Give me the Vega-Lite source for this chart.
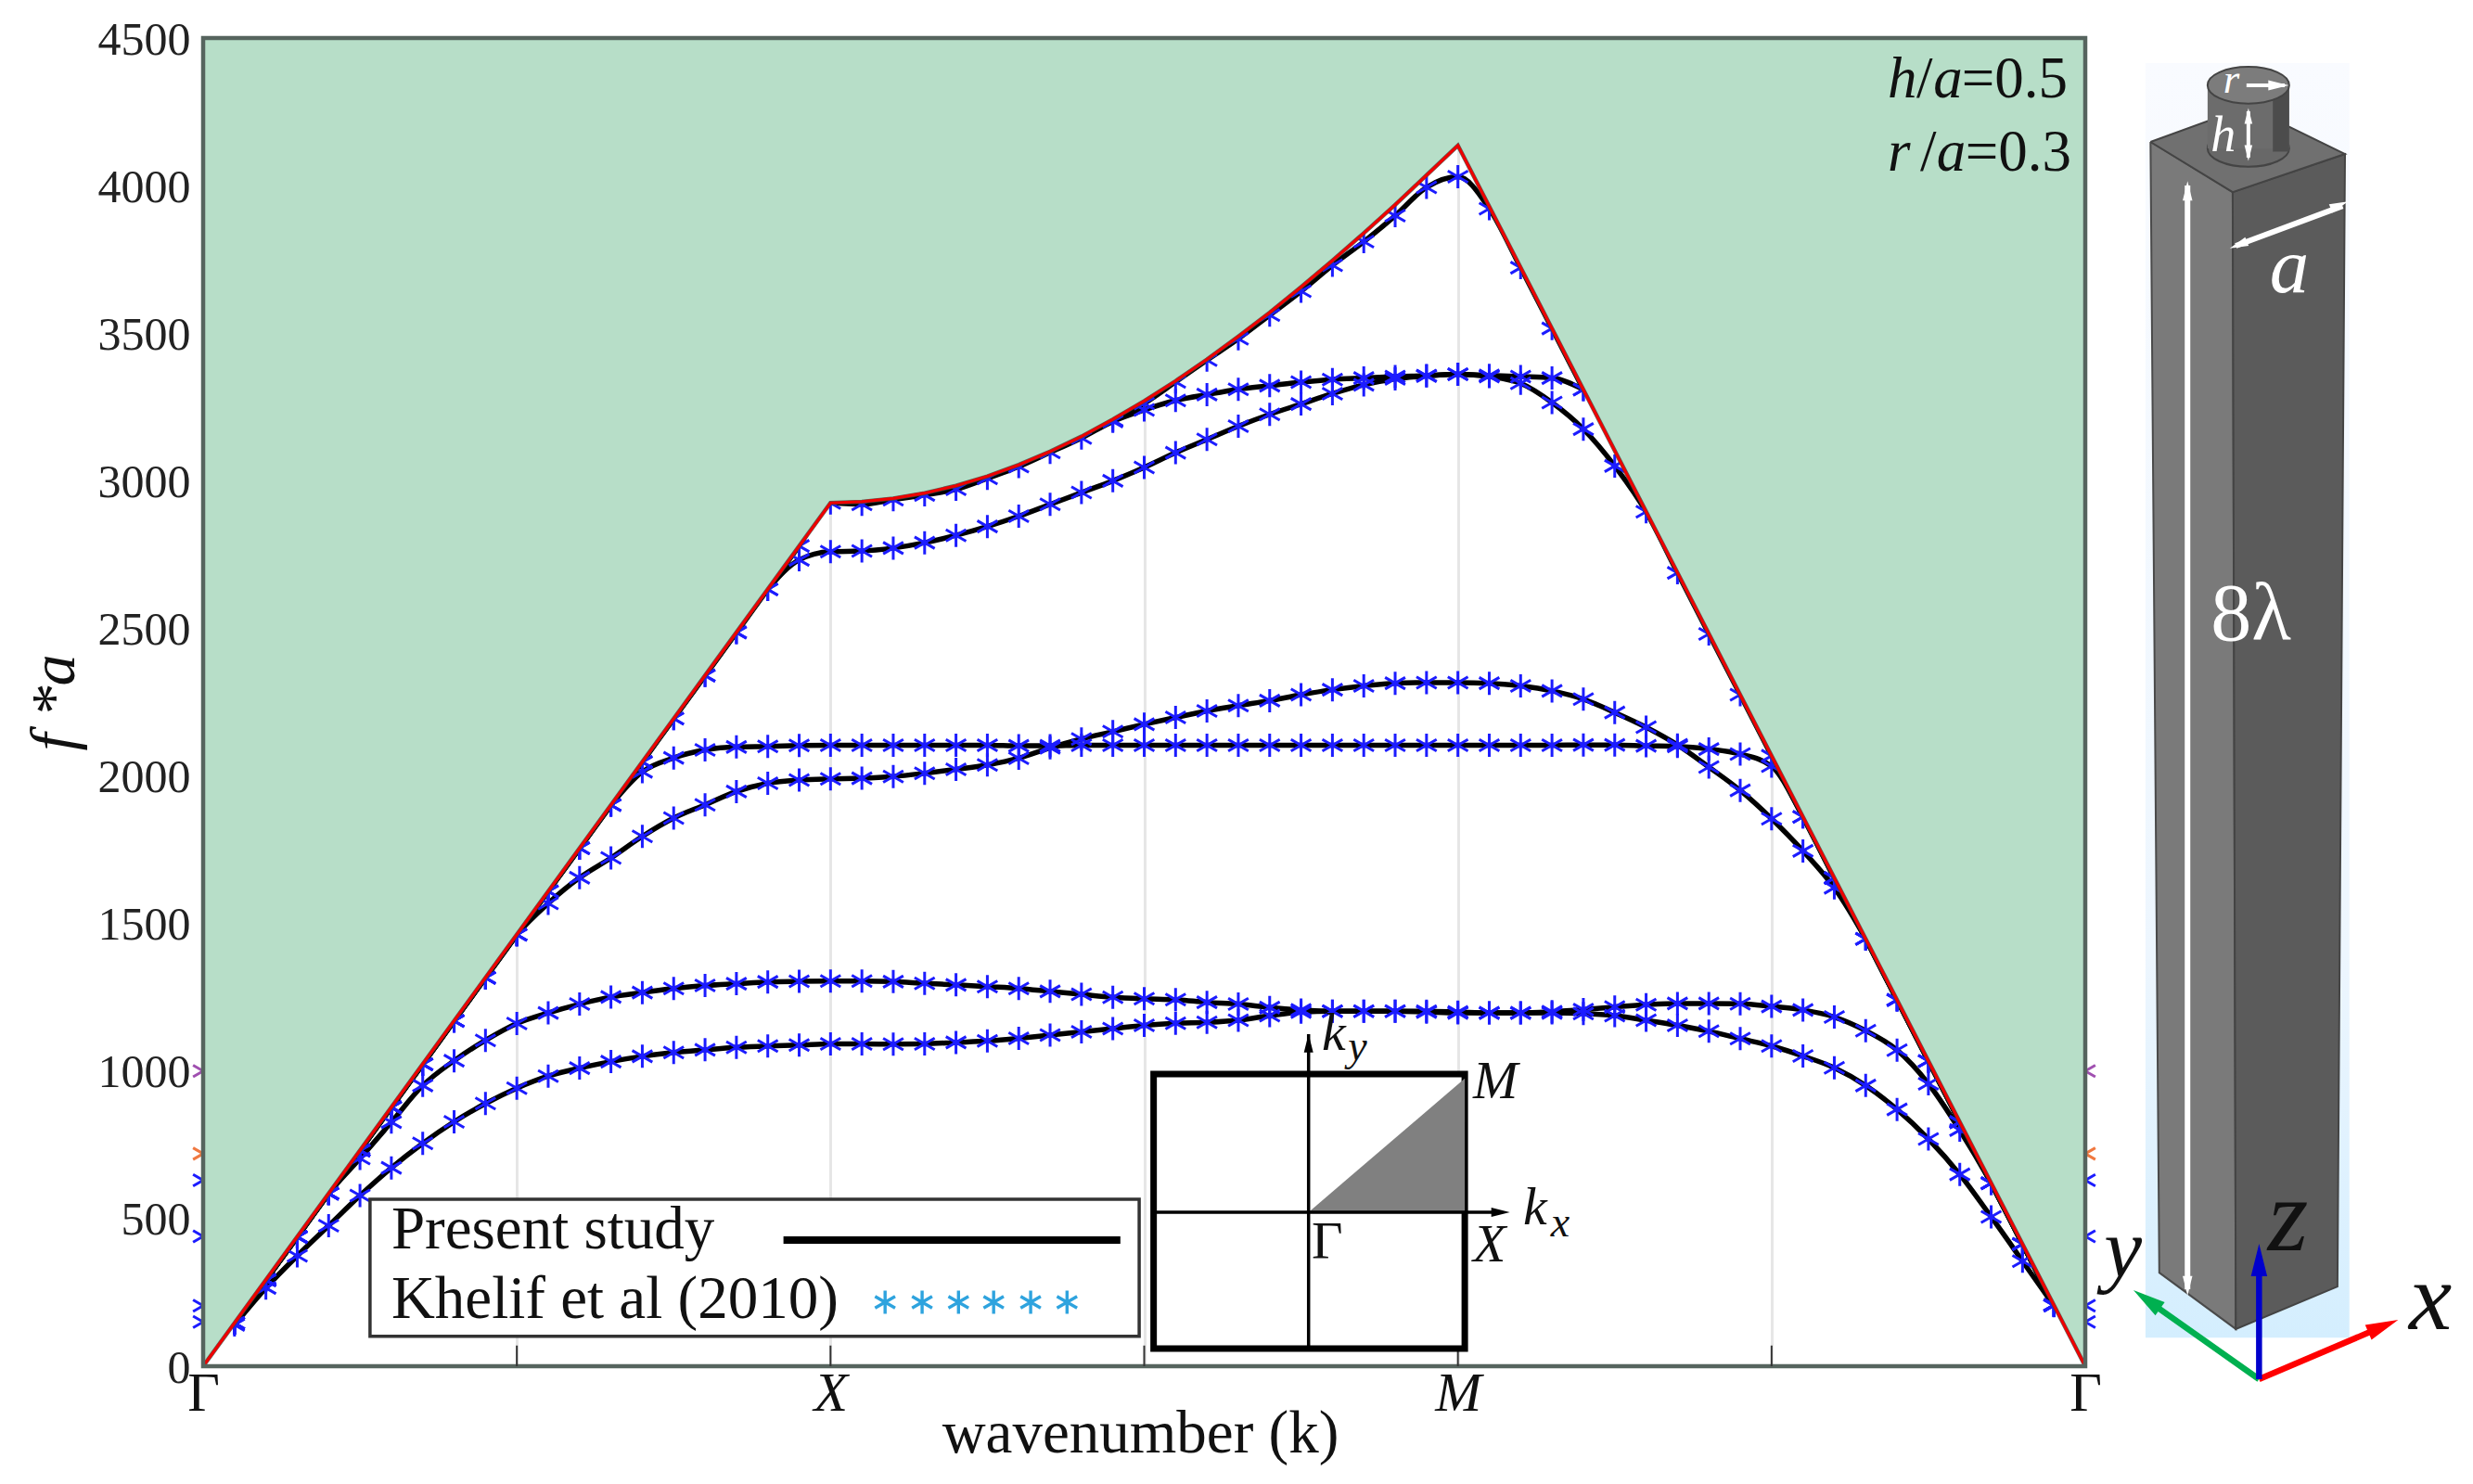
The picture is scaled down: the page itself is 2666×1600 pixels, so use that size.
{"$schema":"https://vega.github.io/schema/vega-lite/v6.json","autosize":{"type":"none"},"padding":{"left":219,"top":41,"right":418,"bottom":127},"width":2029,"height":1432,"background":"white","config":{"view":{"stroke":null}},
"datasets":{
"band1":[{"k":0.05,"f":140},{"k":0.1,"f":265},{"k":0.15,"f":374},{"k":0.2,"f":476},{"k":0.25,"f":578},{"k":0.3,"f":672},{"k":0.35,"f":755},{"k":0.4,"f":828},{"k":0.45,"f":890},{"k":0.5,"f":942},{"k":0.55,"f":983},{"k":0.6,"f":1010},{"k":0.65,"f":1032},{"k":0.7,"f":1050},{"k":0.75,"f":1063},{"k":0.8,"f":1072},{"k":0.85,"f":1080},{"k":0.9,"f":1085},{"k":0.95,"f":1088},{"k":1,"f":1092},{"k":1.05,"f":1092},{"k":1.1,"f":1091},{"k":1.15,"f":1092},{"k":1.2,"f":1097},{"k":1.25,"f":1102},{"k":1.3,"f":1111},{"k":1.35,"f":1122},{"k":1.4,"f":1133},{"k":1.45,"f":1144},{"k":1.5,"f":1155},{"k":1.55,"f":1162},{"k":1.6,"f":1165},{"k":1.65,"f":1172},{"k":1.7,"f":1188},{"k":1.75,"f":1200},{"k":1.8,"f":1203},{"k":1.85,"f":1203},{"k":1.9,"f":1203},{"k":1.95,"f":1203},{"k":2,"f":1200},{"k":2.05,"f":1197},{"k":2.1,"f":1197},{"k":2.15,"f":1197},{"k":2.2,"f":1195},{"k":2.25,"f":1188},{"k":2.3,"f":1172},{"k":2.35,"f":1155},{"k":2.4,"f":1135},{"k":2.45,"f":1110},{"k":2.5,"f":1085},{"k":2.55,"f":1051},{"k":2.6,"f":1011},{"k":2.65,"f":951},{"k":2.7,"f":870},{"k":2.75,"f":770},{"k":2.8,"f":650},{"k":2.85,"f":506},{"k":2.9,"f":356},{"k":2.95,"f":205}],
"band2":[{"k":0.05,"f":146},{"k":0.1,"f":292},{"k":0.15,"f":438},{"k":0.2,"f":585},{"k":0.25,"f":704},{"k":0.3,"f":827},{"k":0.35,"f":951},{"k":0.4,"f":1035},{"k":0.45,"f":1104},{"k":0.5,"f":1161},{"k":0.55,"f":1197},{"k":0.6,"f":1227},{"k":0.65,"f":1251},{"k":0.7,"f":1266},{"k":0.75,"f":1280},{"k":0.8,"f":1290},{"k":0.85,"f":1296},{"k":0.9,"f":1302},{"k":0.95,"f":1304},{"k":1,"f":1305},{"k":1.05,"f":1305},{"k":1.1,"f":1303},{"k":1.15,"f":1297},{"k":1.2,"f":1292},{"k":1.25,"f":1286},{"k":1.3,"f":1280},{"k":1.35,"f":1270},{"k":1.4,"f":1260},{"k":1.45,"f":1250},{"k":1.5,"f":1245},{"k":1.55,"f":1242},{"k":1.6,"f":1233},{"k":1.65,"f":1227},{"k":1.7,"f":1215},{"k":1.75,"f":1207},{"k":1.8,"f":1203},{"k":1.85,"f":1203},{"k":1.9,"f":1203},{"k":1.95,"f":1200},{"k":2,"f":1197},{"k":2.05,"f":1197},{"k":2.1,"f":1197},{"k":2.15,"f":1201},{"k":2.2,"f":1208},{"k":2.25,"f":1217},{"k":2.3,"f":1225},{"k":2.35,"f":1229},{"k":2.4,"f":1229},{"k":2.45,"f":1228},{"k":2.5,"f":1219},{"k":2.55,"f":1207},{"k":2.6,"f":1183},{"k":2.65,"f":1137},{"k":2.7,"f":1071},{"k":2.75,"f":957},{"k":2.8,"f":800},{"k":2.85,"f":620},{"k":2.9,"f":414},{"k":2.95,"f":207}],
"band3":[{"k":0.05,"f":146},{"k":0.1,"f":292},{"k":0.15,"f":438},{"k":0.2,"f":585},{"k":0.25,"f":731},{"k":0.3,"f":877},{"k":0.35,"f":1023},{"k":0.4,"f":1170},{"k":0.45,"f":1316},{"k":0.5,"f":1462},{"k":0.55,"f":1568},{"k":0.6,"f":1655},{"k":0.65,"f":1722},{"k":0.7,"f":1795},{"k":0.75,"f":1857},{"k":0.8,"f":1902},{"k":0.85,"f":1947},{"k":0.9,"f":1975},{"k":0.95,"f":1986},{"k":1,"f":1990},{"k":1.05,"f":1992},{"k":1.1,"f":1998},{"k":1.15,"f":2009},{"k":1.2,"f":2022},{"k":1.25,"f":2037},{"k":1.3,"f":2060},{"k":1.35,"f":2095},{"k":1.4,"f":2125},{"k":1.45,"f":2150},{"k":1.5,"f":2175},{"k":1.55,"f":2198},{"k":1.6,"f":2220},{"k":1.65,"f":2238},{"k":1.7,"f":2255},{"k":1.75,"f":2275},{"k":1.8,"f":2292},{"k":1.85,"f":2305},{"k":1.9,"f":2314},{"k":1.95,"f":2316},{"k":2,"f":2316},{"k":2.05,"f":2314},{"k":2.1,"f":2305},{"k":2.15,"f":2288},{"k":2.2,"f":2260},{"k":2.25,"f":2215},{"k":2.3,"f":2165},{"k":2.35,"f":2105},{"k":2.4,"f":2030},{"k":2.45,"f":1951},{"k":2.5,"f":1855},{"k":2.55,"f":1746},{"k":2.6,"f":1621},{"k":2.65,"f":1448},{"k":2.7,"f":1241},{"k":2.75,"f":1034},{"k":2.8,"f":827},{"k":2.85,"f":620},{"k":2.9,"f":414},{"k":2.95,"f":207}],
"band4":[{"k":0.05,"f":146},{"k":0.1,"f":292},{"k":0.15,"f":438},{"k":0.2,"f":585},{"k":0.25,"f":731},{"k":0.3,"f":877},{"k":0.35,"f":1023},{"k":0.4,"f":1170},{"k":0.45,"f":1316},{"k":0.5,"f":1462},{"k":0.55,"f":1609},{"k":0.6,"f":1755},{"k":0.65,"f":1901},{"k":0.7,"f":2014},{"k":0.75,"f":2061},{"k":0.8,"f":2088},{"k":0.85,"f":2098},{"k":0.9,"f":2100},{"k":0.95,"f":2103},{"k":1,"f":2104},{"k":1.05,"f":2104},{"k":1.1,"f":2104},{"k":1.15,"f":2104},{"k":1.2,"f":2104},{"k":1.25,"f":2104},{"k":1.3,"f":2102},{"k":1.35,"f":2102},{"k":1.4,"f":2104},{"k":1.45,"f":2104},{"k":1.5,"f":2104},{"k":1.55,"f":2104},{"k":1.6,"f":2104},{"k":1.65,"f":2104},{"k":1.7,"f":2104},{"k":1.75,"f":2104},{"k":1.8,"f":2104},{"k":1.85,"f":2104},{"k":1.9,"f":2104},{"k":1.95,"f":2104},{"k":2,"f":2104},{"k":2.05,"f":2104},{"k":2.1,"f":2104},{"k":2.15,"f":2104},{"k":2.2,"f":2105},{"k":2.25,"f":2105},{"k":2.3,"f":2102},{"k":2.35,"f":2100},{"k":2.4,"f":2091},{"k":2.45,"f":2074},{"k":2.5,"f":2033},{"k":2.55,"f":1861},{"k":2.6,"f":1654},{"k":2.65,"f":1448},{"k":2.7,"f":1241},{"k":2.75,"f":1034},{"k":2.8,"f":827},{"k":2.85,"f":620},{"k":2.9,"f":414},{"k":2.95,"f":207}],
"band5":[{"k":0.05,"f":146},{"k":0.1,"f":292},{"k":0.15,"f":438},{"k":0.2,"f":585},{"k":0.25,"f":731},{"k":0.3,"f":877},{"k":0.35,"f":1023},{"k":0.4,"f":1170},{"k":0.45,"f":1316},{"k":0.5,"f":1462},{"k":0.55,"f":1609},{"k":0.6,"f":1755},{"k":0.65,"f":1901},{"k":0.7,"f":2047},{"k":0.75,"f":2194},{"k":0.8,"f":2340},{"k":0.85,"f":2486},{"k":0.9,"f":2632},{"k":0.95,"f":2732},{"k":1,"f":2760},{"k":1.05,"f":2762},{"k":1.1,"f":2772},{"k":1.15,"f":2790},{"k":1.2,"f":2815},{"k":1.25,"f":2845},{"k":1.3,"f":2880},{"k":1.35,"f":2920},{"k":1.4,"f":2960},{"k":1.45,"f":3000},{"k":1.5,"f":3045},{"k":1.55,"f":3095},{"k":1.6,"f":3140},{"k":1.65,"f":3185},{"k":1.7,"f":3225},{"k":1.75,"f":3260},{"k":1.8,"f":3295},{"k":1.85,"f":3325},{"k":1.9,"f":3345},{"k":1.95,"f":3355},{"k":2,"f":3361},{"k":2.05,"f":3353},{"k":2.1,"f":3330},{"k":2.15,"f":3265},{"k":2.2,"f":3175},{"k":2.25,"f":3050},{"k":2.3,"f":2895},{"k":2.35,"f":2688},{"k":2.4,"f":2481},{"k":2.45,"f":2275},{"k":2.5,"f":2068},{"k":2.55,"f":1861},{"k":2.6,"f":1654},{"k":2.65,"f":1448},{"k":2.7,"f":1241},{"k":2.75,"f":1034},{"k":2.8,"f":827},{"k":2.85,"f":620},{"k":2.9,"f":414},{"k":2.95,"f":207}],
"band6":[{"k":0.05,"f":146},{"k":0.1,"f":292},{"k":0.15,"f":438},{"k":0.2,"f":585},{"k":0.25,"f":731},{"k":0.3,"f":877},{"k":0.35,"f":1023},{"k":0.4,"f":1170},{"k":0.45,"f":1316},{"k":0.5,"f":1462},{"k":0.55,"f":1609},{"k":0.6,"f":1755},{"k":0.65,"f":1901},{"k":0.7,"f":2047},{"k":0.75,"f":2194},{"k":0.8,"f":2340},{"k":0.85,"f":2486},{"k":0.9,"f":2632},{"k":0.95,"f":2779},{"k":1,"f":2925},{"k":1.05,"f":2920},{"k":1.1,"f":2936},{"k":1.15,"f":2952},{"k":1.2,"f":2971},{"k":1.25,"f":3008},{"k":1.3,"f":3048},{"k":1.35,"f":3096},{"k":1.4,"f":3145},{"k":1.45,"f":3201},{"k":1.5,"f":3240},{"k":1.55,"f":3272},{"k":1.6,"f":3292},{"k":1.65,"f":3310},{"k":1.7,"f":3322},{"k":1.75,"f":3334},{"k":1.8,"f":3343},{"k":1.85,"f":3348},{"k":1.9,"f":3353},{"k":1.95,"f":3356},{"k":2,"f":3361},{"k":2.05,"f":3357},{"k":2.1,"f":3353},{"k":2.15,"f":3348},{"k":2.2,"f":3309}],
"band7":[{"k":1.45,"f":3205},{"k":1.5,"f":3262},{"k":1.55,"f":3335},{"k":1.6,"f":3409},{"k":1.65,"f":3481},{"k":1.7,"f":3561},{"k":1.75,"f":3642},{"k":1.8,"f":3730},{"k":1.85,"f":3810},{"k":1.9,"f":3898},{"k":1.95,"f":3994},{"k":2,"f":4030},{"k":2.05,"f":3922},{"k":2.1,"f":3722},{"k":2.15,"f":3516},{"k":2.2,"f":3309}],
"gammaBlue":[{"k":0,"f":630},{"k":0,"f":440},{"k":0,"f":205},{"k":0,"f":150},{"k":3,"f":630},{"k":3,"f":440},{"k":3,"f":205},{"k":3,"f":150}],
"gammaPurple":[{"k":0,"f":1000},{"k":3,"f":1000}],
"gammaOrange":[{"k":0,"f":720},{"k":3,"f":720}],
"envelope":[{"k":0,"f":0},{"k":1,"f":2925},{"k":1.05,"f":2929},{"k":1.1,"f":2940},{"k":1.15,"f":2958},{"k":1.2,"f":2983},{"k":1.25,"f":3015},{"k":1.3,"f":3054},{"k":1.35,"f":3099},{"k":1.4,"f":3150},{"k":1.45,"f":3208},{"k":1.5,"f":3270},{"k":1.55,"f":3338},{"k":1.6,"f":3411},{"k":1.65,"f":3489},{"k":1.7,"f":3570},{"k":1.75,"f":3656},{"k":1.8,"f":3746},{"k":1.85,"f":3839},{"k":1.9,"f":3935},{"k":1.95,"f":4035},{"k":2,"f":4136},{"k":3,"f":0}],
"frame":[{"k":0,"k2":3,"f":0,"f2":4500}],
"ticks":[{"k":0.5,"f":0,"f2":70},{"k":1,"f":0,"f2":70},{"k":1.5,"f":0,"f2":70},{"k":2,"f":0,"f2":70},{"k":2.5,"f":0,"f2":70}],
"legendBox":[{"k":0.266,"k2":1.492,"f":101,"f2":566}],
"legendLine":[{"k":0.925,"k2":1.462,"f":427,"f2":427}],
"legendStars":[{"k":1.087,"f":217},{"k":1.146,"f":217},{"k":1.204,"f":217},{"k":1.26,"f":217},{"k":1.319,"f":217},{"k":1.377,"f":217}],
"legendText":[{"txt":"Present study","k":0.3,"f":399},{"txt":"Khelif et al (2010)","k":0.3,"f":163}],
"insetBox":[{"k":1.515,"k2":2.011,"f":60,"f2":990}],
"insetWedge":[{"k":1.762,"f":522,"f2":522},{"k":2.011,"f":975,"f2":522}],
"insetAxes":[{"k":1.762,"k2":1.762,"f":60,"f2":1125},{"k":1.515,"k2":2.068,"f":522,"f2":522}],
"insetUp":[{"k":1.762,"f":1094}],
"insetRight":[{"k":2.068,"f":522}],
"insetItalic":[{"txt":"M","k":2.024,"f":908},{"txt":"X","k":2.024,"f":355},{"txt":"k","k":2.104,"f":481},{"txt":"k","k":1.783,"f":1072}],
"insetRoman":[{"txt":"Γ","k":1.767,"f":365}],
"insetSub":[{"txt":"x","k":2.148,"f":440},{"txt":"y","k":1.825,"f":1037}],
"noteRoman":[{"txt":"/","k":2.731,"f":4299},{"txt":"=0.5","k":2.803,"f":4299},{"txt":"/","k":2.737,"f":4051},{"txt":"=0.3","k":2.809,"f":4051}],
"noteItalic":[{"txt":"h","k":2.685,"f":4299},{"txt":"a","k":2.758,"f":4299},{"txt":"r","k":2.685,"f":4051},{"txt":"a","k":2.763,"f":4051}],
"glow":[{"k":3.096,"k2":3.421,"f":97,"f2":4415}],
"faceLeft":[{"i":0,"k":3.104,"f":4148},{"i":1,"k":3.235,"f":3978},{"i":2,"k":3.24,"f":126},{"i":3,"k":3.118,"f":317},{"i":4,"k":3.104,"f":4148}],
"faceRight":[{"i":0,"k":3.235,"f":3978},{"i":1,"k":3.414,"f":4107},{"i":2,"k":3.402,"f":270},{"i":3,"k":3.24,"f":126},{"i":4,"k":3.235,"f":3978}],
"faceTop":[{"i":0,"k":3.104,"f":4148},{"i":1,"k":3.259,"f":4268},{"i":2,"k":3.414,"f":4107},{"i":3,"k":3.235,"f":3978},{"i":4,"k":3.104,"f":4148}],
"cylBase":[{"k":3.26,"f":4126}],
"cylTop":[{"k":3.26,"f":4340}],
"cylBody":[{"k":3.195,"k2":3.325,"f":4126,"f2":4340}],
"cylShade":[{"k":3.299,"k2":3.325,"f":4115,"f2":4340}],
"whiteRules3":[{"k":3.257,"k2":3.318,"f":4340,"f2":4340},{"k":3.26,"k2":3.26,"f":4252,"f2":4095}],
"whiteRules5":[{"k":3.24,"k2":3.41,"f":3796,"f2":3931},{"k":3.163,"k2":3.163,"f":4000,"f2":261}],
"headR":[{"k":3.308,"f":4340}],
"headHUp":[{"k":3.26,"f":4236}],
"headHDown":[{"k":3.26,"f":4110}],
"headAR":[{"k":3.405,"f":3934}],
"headAL":[{"k":3.244,"f":3799}],
"head8Up":[{"k":3.163,"f":3982}],
"head8Down":[{"k":3.163,"f":273}],
"whiteR":[{"txt":"r","k":3.22,"f":4315}],
"whiteH":[{"txt":"h","k":3.2,"f":4117}],
"whiteA":[{"txt":"a","k":3.294,"f":3639}],
"white8":[{"txt":"8λ","k":3.2,"f":2460}],
"axisBlue":[{"k":3.277,"k2":3.277,"f":-44,"f2":308}],
"axisGreen":[{"k":3.277,"k2":3.114,"f":-44,"f2":201}],
"axisRed":[{"k":3.277,"k2":3.454,"f":-44,"f2":116}],
"tipBlue":[{"k":3.277,"f":360}],
"tipGreen":[{"k":3.098,"f":226}],
"tipRed":[{"k":3.475,"f":136}],
"nameZ":[{"txt":"z","k":3.291,"f":393}],
"nameX":[{"txt":"x","k":3.516,"f":126}],
"nameY":[{"txt":"y","k":3.03,"f":302}]
},
"encoding":{
"x":{"field":"k","type":"quantitative","scale":{"domain":[0,3],"nice":false,"zero":false},"axis":{"title":"wavenumber (k)","titleFont":"Liberation Serif","titleFontSize":65,"titleFontWeight":"normal","titleColor":"#111","titlePadding":-18,"titleX":1010,"values":[0,0.5,1,1.5,2,2.5,3],"labelExpr":"datum.value==0||datum.value==3?'Γ':datum.value==1?'X':datum.value==2?'M':''","labelFont":"Liberation Serif","labelFontSize":60,"labelColor":"#111","labelPadding":0,"labelOverlap":false,"labelFlush":false,"labelFontStyle":{"condition":{"test":"datum.value==1||datum.value==2","value":"italic"},"value":"normal"},"tickSize":0,"domain":false,"grid":true,"gridColor":"#e6e6e6","gridWidth":3}},
"y":{"field":"f","type":"quantitative","scale":{"domain":[0,4500],"nice":false,"zero":false},"axis":{"title":"f *a","titleFont":"Liberation Serif","titleFontSize":68,"titleFontStyle":"italic","titleFontWeight":"normal","titleColor":"#111","titlePadding":12,"values":[0,500,1000,1500,2000,2500,3000,3500,4000,4500],"labelFont":"Liberation Serif","labelFontSize":50,"labelColor":"#222","labelPadding":14,"labelOffset":2,"labelOverlap":false,"labelFlush":false,"format":"d","tickSize":0,"domain":false,"grid":false}}
},
"layer":[
{"data":{"name":"band1"},"mark":{"type":"line","color":"#000","strokeWidth":5.5,"interpolate":"monotone"}},
{"data":{"name":"band2"},"mark":{"type":"line","color":"#000","strokeWidth":5.5,"interpolate":"monotone"}},
{"data":{"name":"band3"},"mark":{"type":"line","color":"#000","strokeWidth":5.5,"interpolate":"monotone"}},
{"data":{"name":"band4"},"mark":{"type":"line","color":"#000","strokeWidth":5.5,"interpolate":"monotone"}},
{"data":{"name":"band5"},"mark":{"type":"line","color":"#000","strokeWidth":5.5,"interpolate":"monotone"}},
{"data":{"name":"band6"},"mark":{"type":"line","color":"#000","strokeWidth":5.5,"interpolate":"monotone"}},
{"data":{"name":"band7"},"mark":{"type":"line","color":"#000","strokeWidth":5.5,"interpolate":"monotone"}},
{"data":{"name":"band1"},"mark":{"type":"point","shape":"M0,-1L0,1M-0.87,-0.5L0.87,0.5M-0.87,0.5L0.87,-0.5","size":625,"filled":false,"stroke":"#1c1cff","strokeWidth":3,"opacity":1}},
{"data":{"name":"band2"},"mark":{"type":"point","shape":"M0,-1L0,1M-0.87,-0.5L0.87,0.5M-0.87,0.5L0.87,-0.5","size":625,"filled":false,"stroke":"#1c1cff","strokeWidth":3,"opacity":1}},
{"data":{"name":"band3"},"mark":{"type":"point","shape":"M0,-1L0,1M-0.87,-0.5L0.87,0.5M-0.87,0.5L0.87,-0.5","size":625,"filled":false,"stroke":"#1c1cff","strokeWidth":3,"opacity":1}},
{"data":{"name":"band4"},"mark":{"type":"point","shape":"M0,-1L0,1M-0.87,-0.5L0.87,0.5M-0.87,0.5L0.87,-0.5","size":625,"filled":false,"stroke":"#1c1cff","strokeWidth":3,"opacity":1}},
{"data":{"name":"band5"},"mark":{"type":"point","shape":"M0,-1L0,1M-0.87,-0.5L0.87,0.5M-0.87,0.5L0.87,-0.5","size":625,"filled":false,"stroke":"#1c1cff","strokeWidth":3,"opacity":1}},
{"data":{"name":"band6"},"mark":{"type":"point","shape":"M0,-1L0,1M-0.87,-0.5L0.87,0.5M-0.87,0.5L0.87,-0.5","size":625,"filled":false,"stroke":"#1c1cff","strokeWidth":3,"opacity":1}},
{"data":{"name":"band7"},"mark":{"type":"point","shape":"M0,-1L0,1M-0.87,-0.5L0.87,0.5M-0.87,0.5L0.87,-0.5","size":625,"filled":false,"stroke":"#1c1cff","strokeWidth":3,"opacity":1}},
{"data":{"name":"gammaBlue"},"mark":{"type":"point","shape":"M0,-1L0,1M-0.87,-0.5L0.87,0.5M-0.87,0.5L0.87,-0.5","size":625,"filled":false,"stroke":"#1c1cff","strokeWidth":3,"opacity":1}},
{"data":{"name":"gammaPurple"},"mark":{"type":"point","shape":"M0,-1L0,1M-0.87,-0.5L0.87,0.5M-0.87,0.5L0.87,-0.5","size":625,"filled":false,"stroke":"#a050b0","strokeWidth":3,"opacity":1}},
{"data":{"name":"gammaOrange"},"mark":{"type":"point","shape":"M0,-1L0,1M-0.87,-0.5L0.87,0.5M-0.87,0.5L0.87,-0.5","size":625,"filled":false,"stroke":"#f07840","strokeWidth":3,"opacity":1}},
{"data":{"name":"envelope"},"mark":{"type":"area","color":"#b7dec8"},"encoding":{"y2":{"datum":4500}}},
{"data":{"name":"envelope"},"mark":{"type":"line","color":"#3a4a42","strokeWidth":4.5,"opacity":0.8}},
{"data":{"name":"envelope"},"mark":{"type":"line","color":"#ee0000","strokeWidth":3.2}},
{"data":{"name":"frame"},"mark":{"type":"rect","fill":null,"fillOpacity":0,"stroke":"#56645e","strokeWidth":4.5},"encoding":{"x2":{"field":"k2"},"y2":{"field":"f2"}}},
{"data":{"name":"ticks"},"mark":{"type":"rule","color":"#333","strokeWidth":2},"encoding":{"y2":{"field":"f2"}}},
{"data":{"name":"legendBox"},"mark":{"type":"rect","fill":"#fff","stroke":"#333","strokeWidth":3.5},"encoding":{"x2":{"field":"k2"},"y2":{"field":"f2"}}},
{"data":{"name":"legendLine"},"mark":{"type":"rule","color":"#000","strokeWidth":8},"encoding":{"x2":{"field":"k2"},"y2":{"field":"f2"}}},
{"data":{"name":"legendStars"},"mark":{"type":"point","shape":"M0,-1L0,1M-0.87,-0.5L0.87,0.5M-0.87,0.5L0.87,-0.5","size":620,"filled":false,"stroke":"#2ea3de","strokeWidth":3.4,"opacity":1}},
{"data":{"name":"legendText"},"mark":{"type":"text","font":"Liberation Serif","fontSize":65,"color":"#111","align":"left","baseline":"alphabetic"},"encoding":{"text":{"field":"txt"}}},
{"data":{"name":"insetBox"},"mark":{"type":"rect","fill":"#fff","stroke":"#000","strokeWidth":7},"encoding":{"x2":{"field":"k2"},"y2":{"field":"f2"}}},
{"data":{"name":"insetWedge"},"mark":{"type":"area","color":"#808080"},"encoding":{"y2":{"field":"f2"}}},
{"data":{"name":"insetAxes"},"mark":{"type":"rule","color":"#000","strokeWidth":3.5},"encoding":{"x2":{"field":"k2"},"y2":{"field":"f2"}}},
{"data":{"name":"insetUp"},"mark":{"type":"point","shape":"M0,-1L0.5,1L-0.5,1Z","size":400,"filled":true,"color":"#000","opacity":1,"strokeWidth":0}},
{"data":{"name":"insetRight"},"mark":{"type":"point","shape":"M0,-1L0.5,1L-0.5,1Z","size":400,"filled":true,"color":"#000","opacity":1,"angle":90,"strokeWidth":0}},
{"data":{"name":"insetItalic"},"mark":{"type":"text","font":"Liberation Serif","fontSize":58,"fontStyle":"italic","color":"#111","align":"left","baseline":"alphabetic"},"encoding":{"text":{"field":"txt"}}},
{"data":{"name":"insetRoman"},"mark":{"type":"text","font":"Liberation Serif","fontSize":58,"color":"#111","align":"left","baseline":"alphabetic"},"encoding":{"text":{"field":"txt"}}},
{"data":{"name":"insetSub"},"mark":{"type":"text","font":"Liberation Serif","fontSize":46,"fontStyle":"italic","color":"#111","align":"left","baseline":"alphabetic"},"encoding":{"text":{"field":"txt"}}},
{"data":{"name":"noteRoman"},"mark":{"type":"text","font":"Liberation Serif","fontSize":63,"color":"#111","align":"left","baseline":"alphabetic"},"encoding":{"text":{"field":"txt"}}},
{"data":{"name":"noteItalic"},"mark":{"type":"text","font":"Liberation Serif","fontSize":63,"fontStyle":"italic","color":"#111","align":"left","baseline":"alphabetic"},"encoding":{"text":{"field":"txt"}}},
{"data":{"name":"glow"},"mark":{"type":"rect","fill":{"gradient":"linear","x1":0,"y1":0,"x2":0,"y2":1,"stops":[{"offset":0,"color":"#f9fbff"},{"offset":0.7,"color":"#edf6fe"},{"offset":1,"color":"#d4eefe"}]}},"encoding":{"x2":{"field":"k2"},"y2":{"field":"f2"}}},
{"data":{"name":"faceLeft"},"mark":{"type":"line","fill":"#7a7a7a","stroke":"#4a4a4a","strokeWidth":2},"encoding":{"order":{"field":"i"}}},
{"data":{"name":"faceRight"},"mark":{"type":"line","fill":"#5b5b5b","stroke":"#444","strokeWidth":2},"encoding":{"order":{"field":"i"}}},
{"data":{"name":"faceTop"},"mark":{"type":"line","fill":"#707070","stroke":"#444","strokeWidth":2},"encoding":{"order":{"field":"i"}}},
{"data":{"name":"cylBase"},"mark":{"type":"point","shape":"M-1,0A1,0.45,0,1,1,1,0A1,0.45,0,1,1,-1,0Z","size":7744,"filled":true,"color":"#686868","stroke":"#444","strokeWidth":2,"opacity":1}},
{"data":{"name":"cylBody"},"mark":{"type":"rect","fill":"#6c6c6c"},"encoding":{"x2":{"field":"k2"},"y2":{"field":"f2"}}},
{"data":{"name":"cylShade"},"mark":{"type":"rect","fill":"#4c4c4c"},"encoding":{"x2":{"field":"k2"},"y2":{"field":"f2"}}},
{"data":{"name":"cylTop"},"mark":{"type":"point","shape":"M-1,0A1,0.45,0,1,1,1,0A1,0.45,0,1,1,-1,0Z","size":7744,"filled":true,"color":"#7c7c7c","stroke":"#444","strokeWidth":2,"opacity":1}},
{"data":{"name":"whiteRules3"},"mark":{"type":"rule","color":"#fff","strokeWidth":4},"encoding":{"x2":{"field":"k2"},"y2":{"field":"f2"}}},
{"data":{"name":"whiteRules5"},"mark":{"type":"rule","color":"#fff","strokeWidth":6},"encoding":{"x2":{"field":"k2"},"y2":{"field":"f2"}}},
{"data":{"name":"headR"},"mark":{"type":"point","shape":"M0,-1L0.5,1L-0.5,1Z","size":484,"filled":true,"color":"#fff","opacity":1,"angle":90,"strokeWidth":0}},
{"data":{"name":"headHUp"},"mark":{"type":"point","shape":"M0,-1L0.5,1L-0.5,1Z","size":289,"filled":true,"color":"#fff","opacity":1,"strokeWidth":0}},
{"data":{"name":"headHDown"},"mark":{"type":"point","shape":"M0,-1L0.5,1L-0.5,1Z","size":289,"filled":true,"color":"#fff","opacity":1,"angle":180,"strokeWidth":0}},
{"data":{"name":"headAR"},"mark":{"type":"point","shape":"M0,-1L0.5,1L-0.5,1Z","size":400,"filled":true,"color":"#fff","opacity":1,"angle":68,"strokeWidth":0}},
{"data":{"name":"headAL"},"mark":{"type":"point","shape":"M0,-1L0.5,1L-0.5,1Z","size":400,"filled":true,"color":"#fff","opacity":1,"angle":248,"strokeWidth":0}},
{"data":{"name":"head8Up"},"mark":{"type":"point","shape":"M0,-1L0.5,1L-0.5,1Z","size":441,"filled":true,"color":"#fff","opacity":1,"strokeWidth":0}},
{"data":{"name":"head8Down"},"mark":{"type":"point","shape":"M0,-1L0.5,1L-0.5,1Z","size":441,"filled":true,"color":"#fff","opacity":1,"angle":180,"strokeWidth":0}},
{"data":{"name":"whiteR"},"mark":{"type":"text","font":"Liberation Serif","fontSize":45,"fontStyle":"italic","color":"#fff","align":"left","baseline":"alphabetic"},"encoding":{"text":{"field":"txt"}}},
{"data":{"name":"whiteH"},"mark":{"type":"text","font":"Liberation Serif","fontSize":54,"fontStyle":"italic","color":"#fff","align":"left","baseline":"alphabetic"},"encoding":{"text":{"field":"txt"}}},
{"data":{"name":"whiteA"},"mark":{"type":"text","font":"Liberation Serif","fontSize":85,"fontStyle":"italic","color":"#fff","align":"left","baseline":"alphabetic"},"encoding":{"text":{"field":"txt"}}},
{"data":{"name":"white8"},"mark":{"type":"text","font":"Liberation Serif","fontSize":88,"color":"#fff","align":"left","baseline":"alphabetic"},"encoding":{"text":{"field":"txt"}}},
{"data":{"name":"axisGreen"},"mark":{"type":"rule","color":"#00b050","strokeWidth":6.5},"encoding":{"x2":{"field":"k2"},"y2":{"field":"f2"}}},
{"data":{"name":"axisRed"},"mark":{"type":"rule","color":"#ff0000","strokeWidth":6.5},"encoding":{"x2":{"field":"k2"},"y2":{"field":"f2"}}},
{"data":{"name":"axisBlue"},"mark":{"type":"rule","color":"#0000cc","strokeWidth":6.5},"encoding":{"x2":{"field":"k2"},"y2":{"field":"f2"}}},
{"data":{"name":"tipGreen"},"mark":{"type":"point","shape":"M0,-1L0.5,1L-0.5,1Z","size":1225,"filled":true,"color":"#00b050","opacity":1,"angle":305,"strokeWidth":0}},
{"data":{"name":"tipRed"},"mark":{"type":"point","shape":"M0,-1L0.5,1L-0.5,1Z","size":1225,"filled":true,"color":"#ff0000","opacity":1,"angle":67,"strokeWidth":0}},
{"data":{"name":"tipBlue"},"mark":{"type":"point","shape":"M0,-1L0.5,1L-0.5,1Z","size":1225,"filled":true,"color":"#0000cc","opacity":1,"strokeWidth":0}},
{"data":{"name":"nameZ"},"mark":{"type":"text","font":"Liberation Serif","fontSize":112,"fontStyle":"italic","color":"#111","align":"left","baseline":"alphabetic"},"encoding":{"text":{"field":"txt"}}},
{"data":{"name":"nameX"},"mark":{"type":"text","font":"Liberation Serif","fontSize":104,"fontStyle":"italic","color":"#111","align":"left","baseline":"alphabetic"},"encoding":{"text":{"field":"txt"}}},
{"data":{"name":"nameY"},"mark":{"type":"text","font":"Liberation Serif","fontSize":92,"fontStyle":"italic","color":"#111","align":"left","baseline":"alphabetic"},"encoding":{"text":{"field":"txt"}}}
]}
